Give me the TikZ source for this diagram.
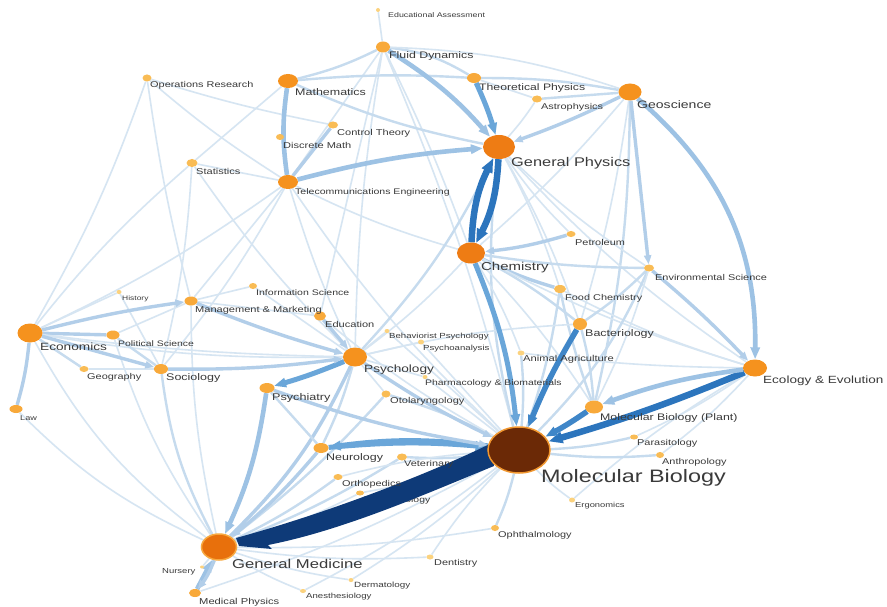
\documentclass[tikz,border=0pt]{standalone}
\usepackage{fontspec}
\setmainfont{Liberation Sans}[FakeStretch=1.3]
\usetikzlibrary{shapes.geometric,arrows.meta}
\pgfdeclarelayer{links}
\pgfsetlayers{links,main}

\definecolor{c0}{HTML}{D6E5F2}
\definecolor{c1}{HTML}{C6DBEE}
\definecolor{c2}{HTML}{B2CEE9}
\definecolor{c3}{HTML}{9DC2E4}
\definecolor{c4}{HTML}{6AA6D9}
\definecolor{c5}{HTML}{3F86C8}
\definecolor{c6}{HTML}{2C75BD}
\definecolor{navy}{HTML}{0E3A78}
\definecolor{orA}{HTML}{F5921E}
\definecolor{orB}{HTML}{EE7C14}
\definecolor{orC}{HTML}{F8A93A}
\definecolor{orD}{HTML}{F9BC55}
\definecolor{orE}{HTML}{FBD27E}
\definecolor{mbfill}{HTML}{6B2906}
\definecolor{mbring}{HTML}{F0962E}
\definecolor{gmfill}{HTML}{E8700C}
\definecolor{gmring}{HTML}{F7A941}
\definecolor{txt}{HTML}{3A3A3A}

\newcommand\fsz[1]{\fontsize{#1}{#1}\selectfont}

\begin{document}
\begin{tikzpicture}[x=1pt,y=-1pt,
  dot/.style={ellipse,inner sep=0pt,draw=none},
  lbl/.style={anchor=west,inner sep=0pt,text=txt},
  e0/.style={draw=c0,line width=1.6pt},
  e1/.style={draw=c1,line width=2.4pt},
  e2/.style={draw=c2,line width=3.4pt},
  e3/.style={draw=c3,line width=4.6pt},
  e4/.style={draw=c4,line width=5pt},
  e5/.style={draw=c5,line width=5.5pt},
  e6/.style={draw=c6,line width=6.5pt},
  tipS/.style={-{Triangle[length=9pt,width=7pt]}},
  tipM/.style={-{Triangle[length=12pt,width=9pt]}},
  tipL/.style={-{Triangle[length=14pt,width=11pt]}}]
\useasboundingbox (0,0) rectangle (887,607);

% discipline dots
\foreach \n/\x/\y/\w/\h/\c in {
  EA/378/10/4/4/orE, FD/383/47/14/11/orC, OR/147/78/9/7/orD,
  MA/288/81/20/14/orA, TP/474/78/14/10/orC, AS/537/99/10/7/orD,
  GS/630/92/23/17/orA, CT/333/125/10/7/orD, DM/280/137/8/6/orD,
  GP/499/147/32/24/orB, ST/192/163/11/8/orD, TE/288/182/20/14/orA,
  PE/571/234/9/6/orD, CH/471/253/28/21/orB, ES/649/268/10/7/orD,
  FC/560/289/12/8/orD, HI/119/292/5/4/orE, IS/253/286/8/6/orD,
  MM/191/301/13/9/orC, ED/320/316/12/9/orC, EC/30/333/25/19/orA,
  PS/113/335/13/9/orC, BA/580/324/14/12/orC, BP/387/331/5/4/orE,
  PA/421/342/6/5/orE, PY/355/357/24/19/orA, AA/521/353/7/5/orE,
  GE/84/369/9/6/orD, SO/161/369/14/10/orC, PH/425/377/5/4/orE,
  EE/755/368/24/17/orA, PI/267/388/15/10/orC, OT/386/394/9/7/orD,
  LA/16/409/13/8/orC, MP/594/407/18/13/orC, PR/634/437/8/5/orD,
  NE/321/448/15/10/orC, VE/402/457/10/7/orD, AN/660/455/8/6/orD,
  OP/338/477/9/6/orD, RH/360/493/8/5/orD, ER/572/500/6/5/orE,
  OH/495/528/8/6/orD, DE/430/557/7/5/orE, NU/202/567/4/3/orE,
  DR/351/580/5/4/orE, PX/195/593/12/8/orC, AE/303/591/6/4/orE}
  {\node[dot,minimum width=\w pt,minimum height=\h pt,fill=\c] (\n) at (\x,\y) {};}
\node[dot,minimum width=62pt,minimum height=46pt,fill=mbfill,draw=mbring,line width=1.5pt] (MB) at (519,450) {};
\node[dot,minimum width=35pt,minimum height=26pt,fill=gmfill,draw=gmring,line width=1.5pt] (GM) at (219,547) {};

\begin{pgfonlayer}{links}
\fill[white] (0,0) rectangle (887,607);
% plain links
\foreach \a/\b/\s/\k in {
  EA/FD/e0/0, FD/MA/e1/6, FD/TP/e1/12, FD/GS/e0/8, FD/TE/e0/0, FD/PY/e0/-4,
  FD/MB/e0/4, FD/CH/e0/3, FD/ED/e0/0, MA/TP/e1/4, MA/GP/e1/-6, MA/ST/e0/0,
  OR/CT/e0/-3, OR/TE/e0/-4, OR/EC/e0/5, OR/MM/e0/-3, ST/TE/e0/0, ST/EC/e0/-5,
  ST/SO/e0/5, ST/PY/e0/-5, TE/EC/e0/5, TE/MM/e0/0, TE/PY/e0/-4, TE/CH/e0/-5,
  TE/MB/e0/-6, TE/SO/e0/5, TP/GS/e1/5, TP/AS/e0/0, AS/GP/e0/4, AS/GS/e1/0,
  GS/CH/e0/4, GS/MP/e1/6, GS/BA/e0/4, GP/PE/e0/-5, GP/MB/e1/-10, GP/ES/e0/-5,
  GP/FC/e0/5, GP/PY/e1/8, GP/BA/e0/5, GP/EE/e0/-6, CH/FC/e2/-5, CH/ES/e1/-4,
  CH/BA/e1/5, CH/EE/e0/-5, CH/PY/e0/5, CH/MP/e0/5, CH/AA/e0/5, FC/MB/e1/5,
  FC/MP/e1/-4, FC/EE/e0/-5, ES/BA/e1/5, ES/MB/e1/10, ES/MP/e0/5, BA/MP/e1/5,
  BA/PY/e0/-5, AA/MB/e1/5, AA/EE/e0/-3, EE/PR/e0/5, EE/AN/e0/5, EE/ER/e0/-5,
  PR/MB/e1/5, AN/MB/e1/5, ER/MB/e0/5, OH/MB/e1/-5, PY/BP/e0/0, PY/PA/e0/0,
  PY/PH/e0/0, PY/OT/e0/0, PY/NE/e1/5, PY/GM/e2/10, PY/EC/e0/5, PY/IS/e0/0,
  PI/NE/e1/0, OT/MB/e1/5, OT/GM/e1/5, VE/MB/e1/-5, VE/GM/e1/5, OP/GM/e1/5,
  OP/MB/e0/5, RH/GM/e0/5, RH/MB/e0/-4, DE/GM/e0/5, DE/MB/e0/5, DR/GM/e0/5,
  DR/MB/e0/-5, AE/GM/e0/5, AE/MB/e0/-5, OH/GM/e0/5, NU/GM/e0/0, PX/MB/e0/-5,
  EC/PS/e2/0, EC/GE/e1/0, EC/HI/e0/0, EC/LA/e2/5, EC/GM/e0/-12, EC/PY/e0/-3,
  HI/SO/e0/0, PS/SO/e1/0, PS/MM/e0/0, PS/GM/e0/-8, GE/SO/e0/0, SO/GM/e1/-10,
  MM/IS/e0/0, MM/GM/e0/-6, MM/ED/e0/0, LA/GM/e0/-10, ED/MB/e0/-5, BP/MB/e0/0,
  PA/MB/e0/0, PH/MB/e0/0, MA/TE/e3/-8, CT/TE/e2/0}
  {\draw[\s] (\a) to[bend left=\k] (\b);}
% directed links
\foreach \a/\b/\s/\t/\k in {
  TP/GP/e4/tipM/4, FD/GP/e3/tipM/8, TE/GP/e3/tipM/5, GS/GP/e2/tipS/3,
  PE/CH/e2/tipS/5, GS/ES/e2/tipS/0, GS/EE/e3/tipM/25, ES/EE/e2/tipS/3,
  CH/MB/e4/tipM/8, BA/MB/e5/tipM/-4, EE/MB/e6/tipL/3, EE/MP/e3/tipM/-6,
  MP/MB/e5/tipM/3, NE/MB/e4/tipM/5, MB/NE/e4/tipM/-7, PY/PI/e4/tipM/3,
  PY/MB/e2/tipS/-4, PI/MB/e2/tipS/-5, PI/GM/e3/tipM/8, NE/GM/e2/tipS/5,
  ED/PY/e2/tipS/0, SO/PY/e2/tipS/-4, MM/PY/e2/tipS/-3, EC/MM/e2/tipS/3,
  EC/SO/e2/tipS/0, PX/GM/e3/tipM/0, GM/PX/e2/tipS/8,
  CH/GP/e6/tipL/12, GP/CH/e6/tipL/12}
  {\draw[\s,\t] (\a) to[bend left=\k] (\b);}
\node[lbl,font=\fsz{8}] (tRH) at (363,500) {Rheumatology};
% the strongest link, tapering towards General Medicine
\fill[navy] (492,443) .. controls (420,478) and (320,515) .. (236,538)
  -- (239,546) -- (272,549) -- (268,545)
  .. controls (345,530) and (430,492) .. (494,466) -- cycle;
\end{pgfonlayer}

% labels
\foreach \n/\x/\y/\f/\t in {
  EA/388/15/6.8/Educational Assessment, FD/389/56/9.5/Fluid Dynamics,
  OR/150/85/8.4/Operations Research, MA/295/92/9.6/Mathematics,
  TP/479/88/9.4/Theoretical Physics, AS/541/107/8.4/Astrophysics,
  GS/637/105/10.8/Geoscience, CT/337/133/8.5/Control Theory,
  DM/283/145/8.5/Discrete Math, GP/511/163/12.6/General Physics,
  ST/196/171/8.5/Statistics, TE/295/192/8.1/Telecommunications Engineering,
  PE/575/242/8.4/Petroleum, CH/481/268/11.5/Chemistry,
  ES/655/277/8.4/Environmental Science, FC/565/298/8.4/Food Chemistry,
  HI/122/299/6.5/History, IS/256/293/8.1/Information Science,
  MM/195/310/8.5/Management \& Marketing, ED/325/324/8.5/Education,
  EC/40/347/10.5/Economics, PS/118/344/8/Political Science,
  BA/585/334/9.6/Bacteriology, BP/389/337/7.4/Behaviorist Psychology,
  PA/423/349/7.4/Psychoanalysis, PY/364/370/10.5/Psychology,
  AA/523/359/8.6/Animal Agriculture, GE/87/377/8.4/Geography,
  SO/166/378/9.6/Sociology, PH/425/383/8/Pharmacology \& Biomaterials,
  EE/763/381/10.4/Ecology \& Evolution, PI/272/398/9.7/Psychiatry,
  OT/390/401/8.5/Otolaryngology, LA/20/418/7/Law,
  MP/600/418/9.5/Molecular Biology (Plant), PR/637/443/8.4/Parasitology,
  MB/541/478/18/Molecular Biology, NE/326/458/9.6/Neurology,
  VE/404/464/8.4/Veterinary, AN/662/462/8.4/Anthropology,
  OP/342/484/8.4/Orthopedics, ER/575/506/7.2/Ergonomics,
  OH/498/535/8.4/Ophthalmology, GM/232/564/12.8/General Medicine,
  DE/434/563/8.4/Dentistry, NU/162/572/7.3/Nursery,
  DR/354/586/7.6/Dermatology, PX/199/602/8.6/Medical Physics,
  AE/306/597/7.4/Anesthesiology}
  {\node[lbl,font=\fsz{\f}] (t\n) at (\x,\y) {\t};}
\end{tikzpicture}
\end{document}
